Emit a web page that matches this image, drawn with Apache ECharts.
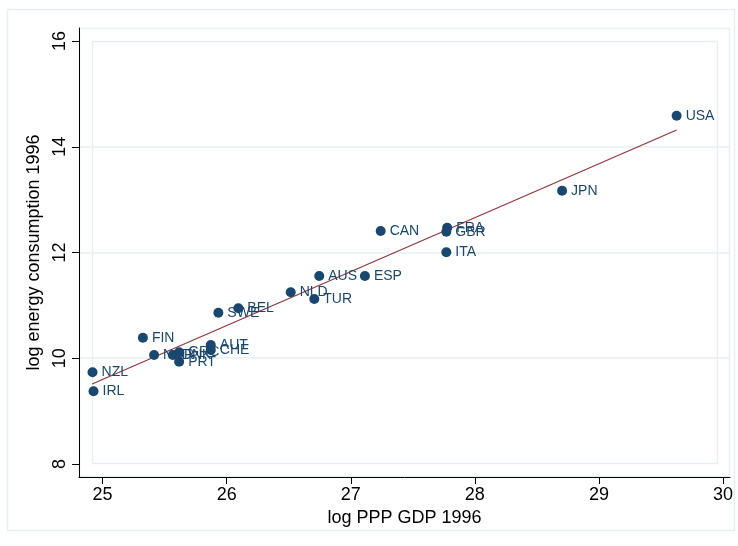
<!DOCTYPE html>
<html>
<head>
<meta charset="utf-8">
<script src="https://cdn.jsdelivr.net/npm/echarts@6/dist/echarts.min.js"></script>
<style>
html,body{margin:0;padding:0;background:#fff;}
#chart{width:738px;height:546px;}
</style>
</head>
<body>
<div id="chart"></div>
<script>
// Data
var countries = ['USA','JPN','CAN','FRA','GBR','ITA','AUS','ESP','NLD','TUR','BEL','SWE','FIN','AUT','CHE','NOR','DNK','GRC','PRT','NZL','IRL'];
var logGDP    = [29.626,28.703,27.241,27.777,27.770,27.770,26.746,27.114,26.516,26.706,26.094,25.933,25.325,25.872,25.872,25.415,25.566,25.617,25.617,24.919,24.927];
var logEnergy = [14.587,13.169,12.407,12.469,12.393,12.004,11.556,11.556,11.247,11.121,10.945,10.862,10.389,10.250,10.156,10.062,10.062,10.113,9.935,9.734,9.377];
var fitX = [24.916, 29.626];
var fitY = [9.513, 14.317];
var xTicks = [25,26,27,28,29,30];
var yTicks = [8,10,12,14,16];
var yGrid = [10,12,14];

var navy = '#1a476f', maroon = '#90353b', light = '#e6eff1';
var font = '"Liberation Sans", Arial, sans-serif';

var pts = countries.map(function(c,i){ return [logGDP[i], logEnergy[i], c]; });
var fit = fitX.map(function(x,i){ return [x, fitY[i]]; });

var chart = echarts.init(document.getElementById('chart'));
chart.setOption({
  animation:false,
  backgroundColor:'#fff',
  grid:{left:79, top:28, right:8, bottom:69, show:false},
  graphic:[
    {type:'rect', shape:{x:7.5,y:9.5,width:727,height:521}, style:{fill:'none',stroke:light,lineWidth:1.5}, z:-10},
    {type:'rect', shape:{x:79.5,y:28.5,width:650,height:448}, style:{fill:'none',stroke:light,lineWidth:1.5}, z:-10},
    {type:'rect', shape:{x:92.5,y:41.5,width:625,height:422}, style:{fill:'none',stroke:light,lineWidth:1.5}, z:-10}
  ],
  xAxis:{
    type:'value', min:24.81, max:30.056,
    name:'log PPP GDP 1996', nameLocation:'middle', nameGap:30,
    nameTextStyle:{fontFamily:font, fontSize:18, color:'#000'},
    axisLine:{show:true, onZero:false, lineStyle:{color:'#000', width:1}},
    axisTick:{show:true, length:7, customValues:xTicks, lineStyle:{color:'#000'}},
    axisLabel:{customValues:xTicks, fontFamily:font, fontSize:18, color:'#000', margin:9},
    splitLine:{show:false}
  },
  yAxis:{
    type:'value', min:7.754, max:16.246,
    name:'log energy consumption 1996', nameLocation:'middle', nameGap:33, nameRotate:90,
    nameTextStyle:{fontFamily:font, fontSize:18, color:'#000'},
    axisLine:{show:true, onZero:false, lineStyle:{color:'#000', width:1}},
    axisTick:{show:true, length:7, customValues:yTicks, lineStyle:{color:'#000'}},
    axisLabel:{customValues:yTicks, rotate:90, fontFamily:font, fontSize:18, color:'#000', margin:10},
    splitLine:{show:false}
  },
  series:[
    {
      type:'line', data:fit, showSymbol:false, symbol:'none',
      lineStyle:{color:maroon, width:1.2}, z:3, silent:true,
      markLine:{
        silent:true, symbol:'none', label:{show:false},
        lineStyle:{color:light, width:1.5, type:'solid'},
        data: yGrid.map(function(v){ return {yAxis:v}; }),
        z:-5
      }
    },
    {
      type:'scatter', data:pts, symbolSize:10, z:4,
      itemStyle:{color:navy, opacity:1},
      label:{show:true, position:'right', distance:4, formatter:function(p){return p.data[2];},
        fontFamily:font, fontSize:14, color:navy}
    }
  ]
});
</script>
</body>
</html>
